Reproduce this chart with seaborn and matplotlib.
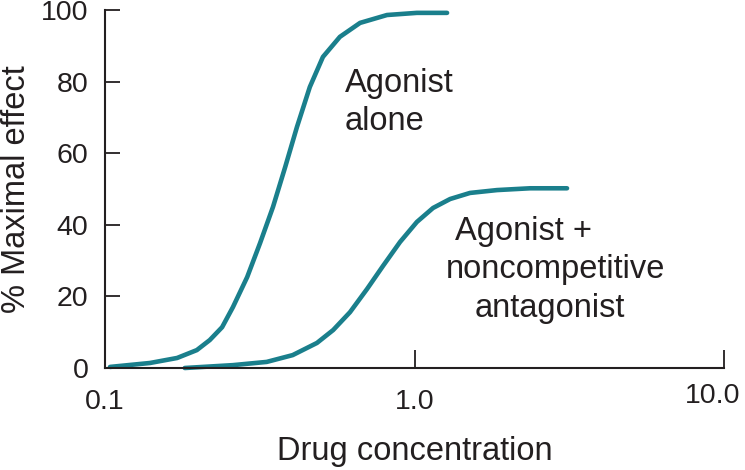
import pandas as pd
import matplotlib
matplotlib.use("Agg")
import matplotlib.pyplot as plt
import matplotlib.transforms as mtransforms
import seaborn as sns

# Dose-response curves
alone_conc = [0.1038, 0.1397, 0.171, 0.198, 0.218, 0.239, 0.259, 0.288, 0.317,
              0.349, 0.382, 0.417, 0.459, 0.506, 0.574, 0.667, 0.815, 1.018, 1.274]
alone_effect = [0.3, 1.4, 2.8, 5.0, 7.8, 11.4, 17.0, 25.4, 34.9,
                45.0, 56.1, 67.3, 78.5, 86.9, 92.5, 96.4, 98.6, 99.2, 99.2]

antag_conc = [0.181, 0.259, 0.333, 0.404, 0.484, 0.546, 0.619, 0.703, 0.791,
              0.898, 1.018, 1.148, 1.303, 1.511, 1.848, 2.362, 3.11]
antag_effect = [0.0, 0.8, 1.7, 3.6, 7.0, 10.6, 15.6, 22.1, 28.5,
                35.2, 40.8, 44.7, 47.2, 48.9, 49.7, 50.2, 50.2]

x_ticks = [0.1, 1.0, 10.0]
x_tick_labels = ["0.1", "1.0", "10.0"]
y_ticks = [0, 20, 40, 60, 80, 100]

TEAL = "#1a7f8c"
INK = "#231f20"


def ciz():
    sns.set_theme(style="ticks")
    plt.rcParams["font.family"] = ["Liberation Sans", "DejaVu Sans"]

    df_alone = pd.DataFrame({"conc": alone_conc, "effect": alone_effect})
    df_antag = pd.DataFrame({"conc": antag_conc, "effect": antag_effect})

    fig = plt.figure(figsize=(7.45, 4.70), dpi=100)
    ax = fig.add_axes([105 / 745, 1 - 368 / 470, 619 / 745, 358 / 470])

    sns.lineplot(data=df_alone, x="conc", y="effect", ax=ax, color=TEAL,
                 linewidth=3.3, estimator=None, clip_on=False)
    sns.lineplot(data=df_antag, x="conc", y="effect", ax=ax, color=TEAL,
                 linewidth=3.3, estimator=None, clip_on=False)

    ax.set_xscale("log")
    ax.set_xlim(0.1, 10)
    ax.set_ylim(0, 100)
    ax.set_xticks(x_ticks)
    ax.set_xticklabels(x_tick_labels)
    ax.minorticks_off()
    ax.set_yticks(y_ticks)

    sns.despine(ax=ax)
    for s in ["left", "bottom"]:
        ax.spines[s].set_linewidth(1.5)
        ax.spines[s].set_color(INK)

    ax.tick_params(axis="x", direction="in", length=13, width=1.3,
                   colors=INK, labelsize=20.5, pad=15)
    ax.tick_params(axis="y", direction="in", length=11, width=1.3,
                   colors=INK, labelsize=20.5, pad=12)

    # "10.0" sits a bit left and higher in the original, keep it inside
    lab10 = ax.get_xticklabels()[-1]
    lab10.set_transform(lab10.get_transform() +
                        mtransforms.ScaledTranslation(-0.11, 0.06, fig.dpi_scale_trans))

    ax.set_xlabel("Drug concentration", fontsize=23.5, color=INK)
    ax.set_ylabel("% Maximal effect", fontsize=23.5, color=INK)
    ax.xaxis.set_label_coords(0.5, -0.19)
    ax.yaxis.set_label_coords(-0.118, 0.5)

    # curve labels, one line each (pixel positions from the reference)
    labels = [("Agonist", 345, 92), ("alone", 345, 130),
              ("Agonist +", 455, 240), ("noncompetitive", 446, 278),
              ("antagonist", 475, 317)]
    for txt, px, py in labels:
        fig.text(px / 745, 1 - py / 470, txt, fontsize=23.5, color=INK,
                 ha="left", va="baseline")

    plt.savefig("out.png", dpi=100)


if __name__ == "__main__":
    ciz()
